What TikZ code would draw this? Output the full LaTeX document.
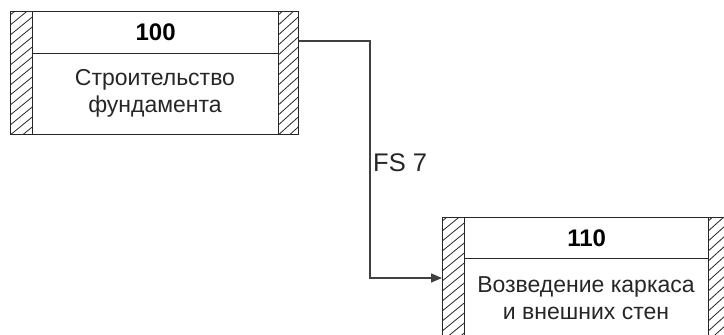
\documentclass[tikz,border=0pt]{standalone}
\usepackage{fontspec}
\setmainfont{Liberation Sans}
\usetikzlibrary{arrows.meta}
\tikzset{
  boxline/.style={draw=black!85, line width=1.3pt},
  hatchcol/.style={boxline, anchor=north west, inner sep=0pt,
    path picture={
      \foreach \k in {-3,...,14}{
        \draw[line width=0.8pt, black!85]
          ([yshift=\k*10pt]path picture bounding box.south west) --
          ([yshift=\k*10pt+18pt]path picture bounding box.south west -| path picture bounding box.east);
      }
    }},
  headbox/.style={boxline, anchor=north west, inner sep=0pt, font=\fontsize{24}{28}\selectfont\bfseries},
  bodybox/.style={boxline, anchor=north west, inner sep=0pt},
  bodytext/.style={align=center, inner sep=0pt, text=black!85, font=\fontsize{23}{27}\selectfont},
  conn/.style={draw=black!75, line width=1.3pt, -{Triangle[length=11pt,width=9pt]}},
  lbl/.style={anchor=west, inner sep=0pt, font=\fontsize{25.5}{30}\selectfont, text=black!85}
}
\begin{document}
\begin{tikzpicture}[x=1pt,y=-1pt]
\useasboundingbox (0,0) rectangle (724,335);
% Box 100
\node[hatchcol, minimum width=22pt, minimum height=123pt] (a1l) at (10,11) {};
\node[hatchcol, minimum width=20pt, minimum height=123pt] (a1r) at (278,11) {};
\node[headbox, minimum width=246pt, minimum height=42pt] (a1h) at (32,11) {100};
\node[bodybox, minimum width=246pt, minimum height=81pt] (a1b) at (32,53) {};
\node[bodytext] (a1t) at (155,93) {Строительство\\фундамента};
% Box 110
\node[hatchcol, minimum width=22pt, minimum height=123pt] (a2l) at (442,217) {};
\node[hatchcol, minimum width=20pt, minimum height=123pt] (a2r) at (708,217) {};
\node[headbox, minimum width=244pt, minimum height=41pt] (a2h) at (464,217) {110};
\node[bodybox, minimum width=244pt, minimum height=82pt] (a2b) at (464,258) {};
\node[bodytext] (a2t) at (586,298.5) {Возведение каркаса\\и внешних стен};
% connector
\coordinate (t1) at (370,41);
\coordinate (t2) at (370,278);
\draw[conn] (a1r.east |- t1) -- (t1) -- (t2) -- (a2l.west |- t2);
\node[lbl] (fs) at (373,163) {FS 7};
\end{tikzpicture}
\end{document}
